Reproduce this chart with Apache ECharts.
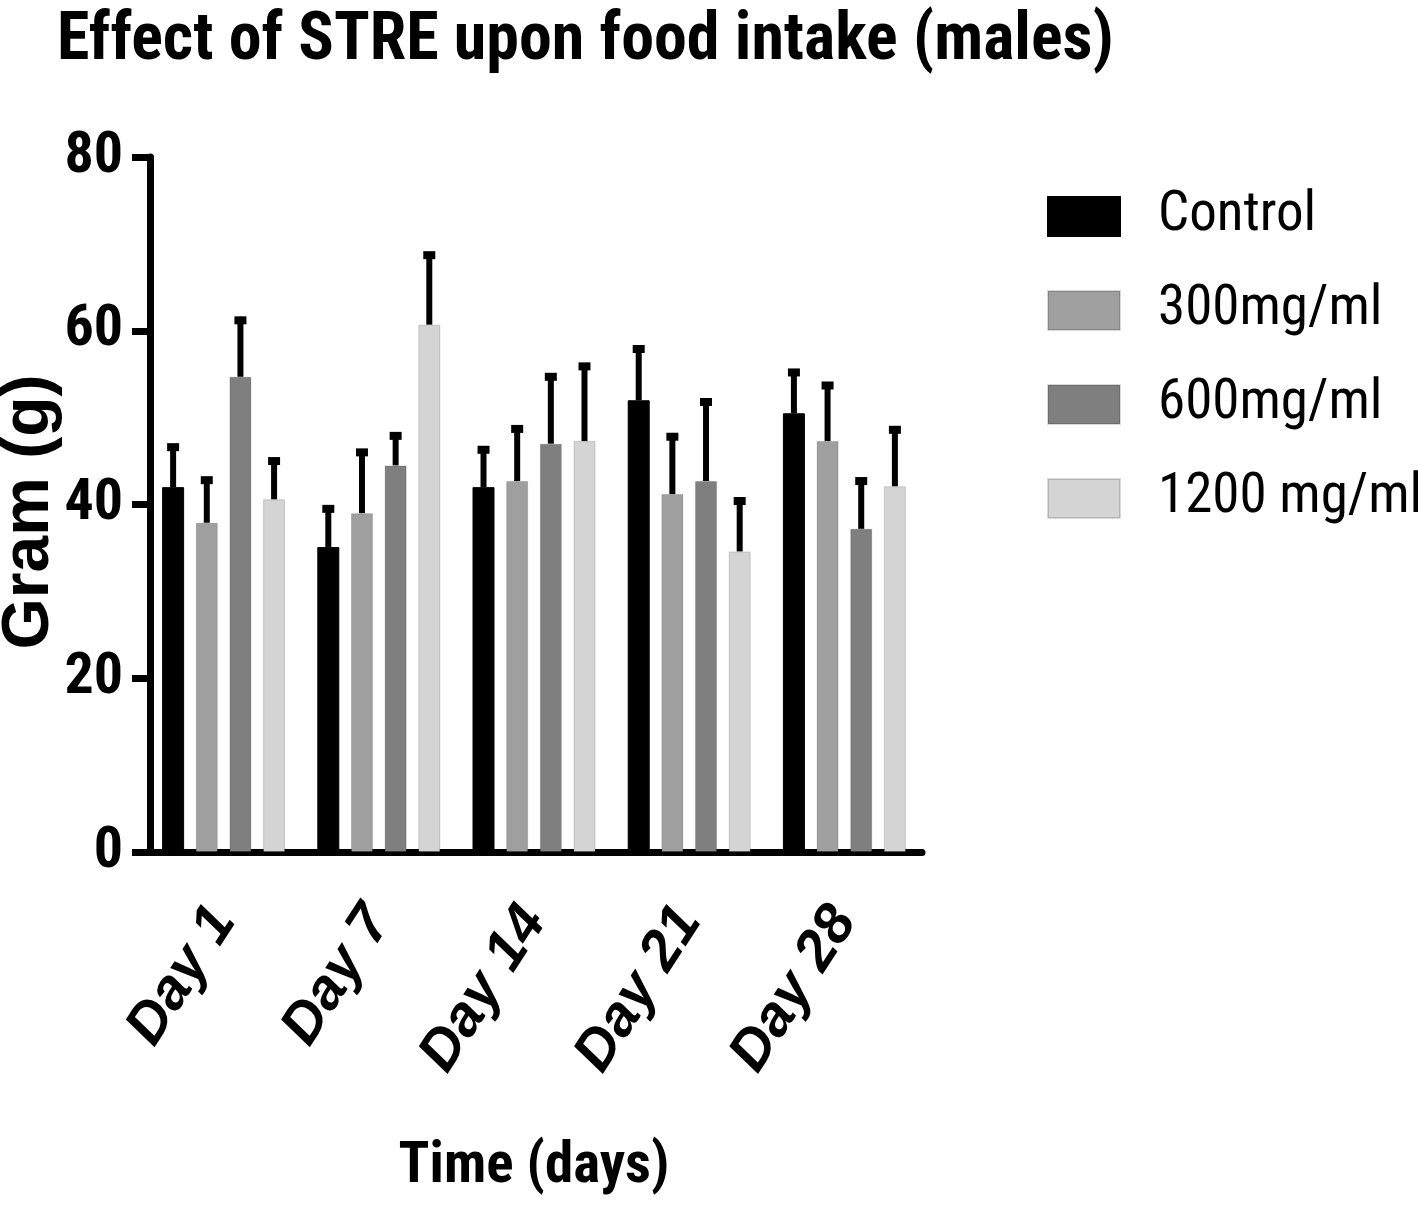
<!DOCTYPE html>
<html>
<head>
<meta charset="utf-8">
<script src="https://cdn.jsdelivr.net/npm/echarts@6/dist/echarts.min.js"></script>
<style>html,body{margin:0;padding:0;background:#fff;}#c{width:1418px;height:1209px;}</style>
</head>
<body>
<div id="c"></div>
<script>
const categories = ['Day 1', 'Day 7', 'Day 14', 'Day 21', 'Day 28'];
const seriesNames = ['Control', '300mg/ml', '600mg/ml', '1200 mg/ml'];
const controlMean = [42.0, 35.1, 42.0, 52.0, 50.5];
const controlErr  = [4.6, 4.4, 4.3, 5.9, 4.7];
const mg300Mean   = [37.9, 39.0, 42.7, 41.2, 47.3];
const mg300Err    = [4.9, 7.0, 6.0, 6.6, 6.4];
const mg600Mean   = [54.7, 44.5, 47.0, 42.7, 37.2];
const mg600Err    = [6.5, 3.4, 7.7, 9.1, 5.5];
const mg1200Mean  = [40.6, 60.7, 47.3, 34.6, 42.1];
const mg1200Err   = [4.4, 8.0, 8.6, 5.8, 6.5];
const yTicks = [0, 20, 40, 60, 80];
const yAxisTitle = 'Gram (g)';

const means = [controlMean, mg300Mean, mg600Mean, mg1200Mean];
const errs = [controlErr, mg300Err, mg600Err, mg1200Err];
const colors = ['#000000', '#9f9f9f', '#7f7f7f', '#d4d4d4'];

const BAR_W = 22;
const BAR_GAP = 0.53;
const STEP = BAR_W * (1 + BAR_GAP);
const NARROW = '"Roboto Condensed", "DejaVu Sans Condensed", sans-serif';
const WIDE = '"Liberation Sans", Arial, sans-serif';

const series = [];
means.forEach((m, i) => {
  series.push({
    name: seriesNames[i],
    type: 'bar',
    data: m,
    barWidth: BAR_W,
    barGap: (BAR_GAP * 100) + '%',
    itemStyle: { color: colors[i], borderColor: i === 0 ? '#000' : 'rgba(0,0,0,0.15)', borderWidth: 1 },
    z: 2
  });
});
means.forEach((m, i) => {
  const off = (i - 1.5) * STEP;
  series.push({
    name: 'err' + i,
    type: 'custom',
    data: m.map((v, k) => [k, v, errs[i][k]]),
    z: 3,
    renderItem: function (params, api) {
      const ci = api.value(0), v = api.value(1), e = api.value(2);
      const base = api.coord([ci, v]);
      const top = api.coord([ci, v + e]);
      const x = base[0] + off;
      return {
        type: 'group',
        children: [
          { type: 'line', shape: { x1: x, y1: base[1], x2: x, y2: top[1] }, style: { stroke: '#000', lineWidth: 6 } },
          { type: 'rect', shape: { x: x - 6, y: top[1] - 4, width: 12, height: 8 }, style: { fill: '#000' } }
        ]
      };
    }
  });
});

const chart = echarts.init(document.getElementById('c'), null, { renderer: 'canvas' });
chart.setOption({
  animation: false,
  backgroundColor: '#fff',
  title: {
    text: 'Effect of STRE upon food intake (males)',
    left: 52, top: 4,
    textStyle: { fontFamily: NARROW, fontWeight: 'bold', fontSize: 66, color: '#000' }
  },
  graphic: [{
    type: 'text', x: 30, y: 512, rotation: Math.PI / 2,
    style: { text: yAxisTitle, font: 'bold 66px ' + WIDE, fill: '#000', align: 'center', verticalAlign: 'middle' }
  }],
  legend: {
    orient: 'vertical',
    left: 1042, top: 184,
    data: seriesNames,
    icon: 'rect',
    itemWidth: 72, itemHeight: 39, itemGap: 39,
    textStyle: { fontFamily: NARROW, fontSize: 55, color: '#000', padding: [0, 0, 0, 33] }
  },
  grid: { left: 146, right: 496, top: 157, bottom: 357, outerBoundsMode: 'none', containLabel: false },
  xAxis: {
    type: 'category',
    data: categories,
    axisLine: { lineStyle: { color: '#000', width: 7 } },
    axisTick: { alignWithLabel: true, length: 22, lineStyle: { color: '#000', width: 5 } },
    axisLabel: { rotate: 57, margin: 60, fontFamily: WIDE, fontWeight: 'bold', fontStyle: 'italic', fontSize: 57, color: '#000' },
    name: 'Time (days)', nameLocation: 'middle', nameGap: 287,
    nameTextStyle: { fontFamily: NARROW, fontWeight: 'bold', fontSize: 57, color: '#000' }
  },
  yAxis: {
    type: 'value', min: yTicks[0], max: yTicks[yTicks.length - 1], interval: 20,
    offset: -4,
    splitLine: { show: false },
    axisLine: { show: true, lineStyle: { color: '#000', width: 7 } },
    axisTick: { show: true, length: 18, lineStyle: { color: '#000', width: 7 } },
    axisLabel: { margin: 27, fontFamily: NARROW, fontWeight: 'bold', fontSize: 58, color: '#000' }
  },
  series: series
});
</script>
</body>
</html>
